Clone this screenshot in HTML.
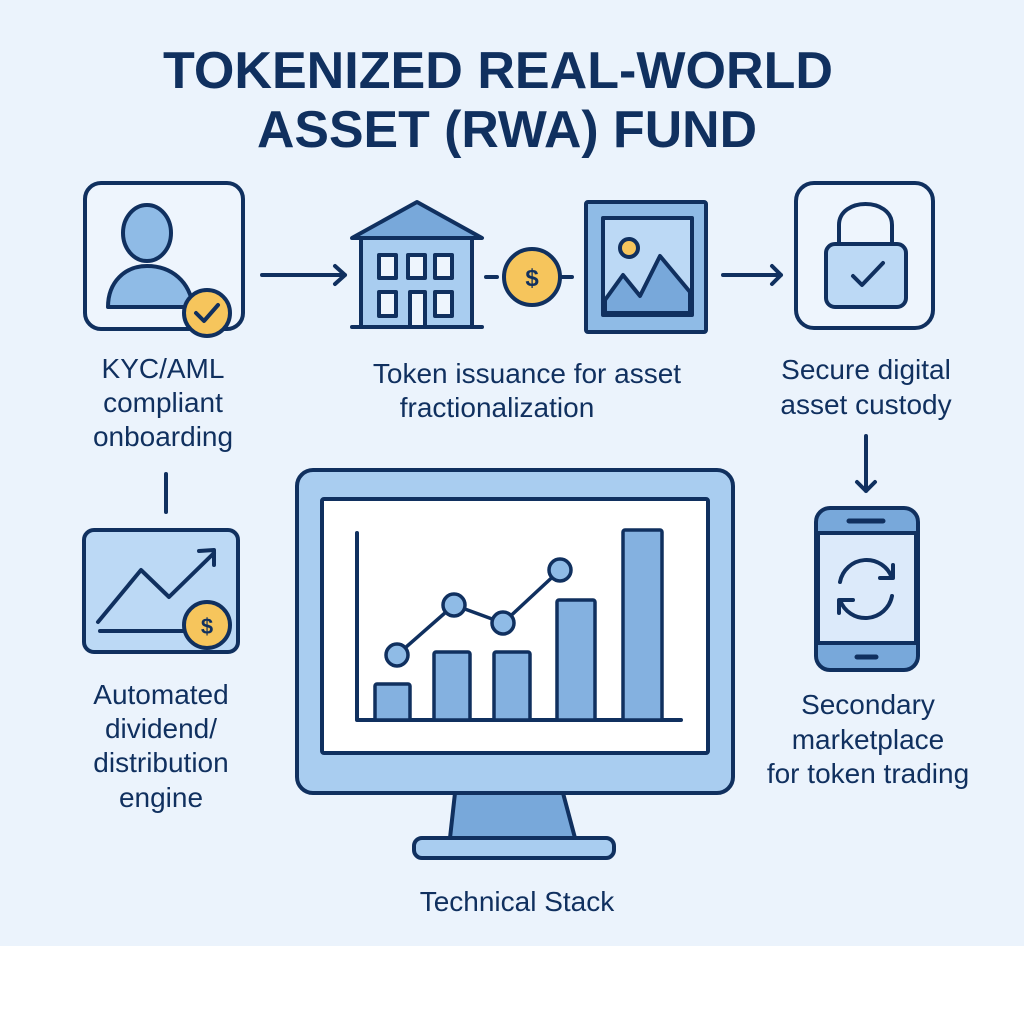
<!DOCTYPE html>
<html><head><meta charset="utf-8"><style>
html,body{margin:0;padding:0;background:#fff}
svg{display:block}
text{font-family:"Liberation Sans",sans-serif;fill:#10305f}
</style></head><body>
<svg width="1024" height="1024" viewBox="0 0 1024 1024" xmlns="http://www.w3.org/2000/svg">
<rect x="0" y="0" width="1024" height="946" fill="#ebf3fc"/>
<g font-weight="bold" font-size="52" text-anchor="middle">
<text x="498" y="88" textLength="670" lengthAdjust="spacingAndGlyphs">TOKENIZED REAL-WORLD</text>
<text x="507" y="147" textLength="500" lengthAdjust="spacingAndGlyphs">ASSET (RWA) FUND</text>
</g>
<g stroke="#10305f" stroke-width="4" stroke-linecap="round" stroke-linejoin="round">
<!-- person box -->
<rect x="85" y="183" width="158" height="146" rx="16" fill="#eef5fd"/>
<ellipse cx="147" cy="233" rx="24" ry="28" fill="#8fbbe6"/>
<path d="M108 307 C108 282 125 266 147 266 C172 266 190 282 193 307 Z" fill="#8fbbe6"/>
<circle cx="207" cy="313" r="23" fill="#f6c55c"/>
<path d="M196 313 L204 321 L218 305" fill="none" stroke-width="4"/>
<!-- arrow1 -->
<path d="M262 275 L345 275 M335 266 L345 275 L335 284" fill="none"/>
<!-- house -->
<path d="M352 238 L417 202 L482 238 Z" fill="#78a8da"/>
<rect x="361" y="238" width="111" height="89" fill="#a9cdf0"/>
<path d="M352 327 L482 327"/>
<g fill="#eef5fd"><rect x="379" y="255" width="17" height="23"/><rect x="408" y="255" width="17" height="23"/><rect x="435" y="255" width="17" height="23"/>
<rect x="379" y="292" width="17" height="24"/><rect x="410" y="292" width="15" height="35"/><rect x="435" y="292" width="17" height="24"/></g>
<!-- coin -->
<path d="M486 277 L497 277 M562 277 L572 277"/>
<ellipse cx="532" cy="277" rx="28" ry="28" fill="#f6c55c"/>
<!-- picture -->
<rect x="586" y="202" width="120" height="130" rx="2" fill="#8fbbe6"/>
<rect x="603" y="218" width="89" height="97" fill="#bcd9f5"/>
<path d="M605 300 L623 275 L640 296 L660 256 L690 292 L690 313 L605 313 Z" fill="#78a8da"/>
<circle cx="629" cy="248" r="9" fill="#f6c55c"/>
<!-- arrow2 -->
<path d="M723 275 L781 275 M772 266 L781 275 L772 284" fill="none"/>
<!-- lock -->
<rect x="796" y="183" width="137" height="145" rx="18" fill="#eef5fd"/>
<path d="M839 245 L839 225 C839 197 892 197 892 225 L892 245" fill="none"/>
<rect x="826" y="244" width="80" height="63" rx="9" fill="#bcd9f5"/>
<path d="M853 276 L862 285 L883 263" fill="none"/>
<!-- down arrow -->
<path d="M866 436 L866 491 M857 482 L866 491 L875 482" fill="none"/>
<!-- phone -->
<rect x="816" y="508" width="102" height="162" rx="14" fill="#78a8da"/>
<rect x="818" y="533" width="98" height="110" fill="#dceafa"/>
<path d="M816 533 L918 533 M816 643 L918 643"/>
<path d="M849 521 L883 521 M857 657 L876 657" stroke-width="5"/>
<path d="M840 582 A27 27 0 0 1 892 578" fill="none"/>
<path d="M880 578 L893 578 L893 565" fill="none"/>
<path d="M892 596 A27 27 0 0 1 840 600" fill="none"/>
<path d="M853 600 L839 600 L839 613" fill="none"/>
<!-- left connector -->
<path d="M166 474 L166 512"/>
<!-- chart box -->
<rect x="84" y="530" width="154" height="122" rx="10" fill="#bcd9f5"/>
<path d="M98 622 L141 570 L169 597 L214 553 M199 551 L214 550 L214 565" fill="none"/>
<path d="M100 631 L185 631"/>
<circle cx="207" cy="625" r="23" fill="#f6c55c"/>
<!-- monitor -->
<path d="M455 793 L563 793 L575 838 L450 838 Z" fill="#78a8da"/>
<rect x="414" y="838" width="200" height="20" rx="8" fill="#a9cdf0"/>
<rect x="297" y="470" width="436" height="323" rx="16" fill="#a9cdf0"/>
<rect x="322" y="499" width="386" height="254" rx="2" fill="#ffffff"/>
<path d="M357 533 L357 720 L681 720" fill="none"/>
<g fill="#84b1e0" stroke-width="3.5">
<rect x="375" y="684" width="35" height="36" rx="2"/>
<rect x="434" y="652" width="36" height="68" rx="2"/>
<rect x="494" y="652" width="36" height="68" rx="2"/>
<rect x="557" y="600" width="38" height="120" rx="2"/>
<rect x="623" y="530" width="39" height="190" rx="2"/>
</g>
<path d="M397 655 L454 605 L503 623 L560 570" fill="none" stroke-width="3.5"/>
<g fill="#8fbbe6" stroke-width="3.5">
<circle cx="397" cy="655" r="11"/><circle cx="454" cy="605" r="11"/><circle cx="503" cy="623" r="11"/><circle cx="560" cy="570" r="11"/>
</g>
</g>
<g font-size="24" font-weight="bold" text-anchor="middle" style="fill:#10305f">
<text x="532" y="286" font-size="24">$</text>
<text x="207" y="634" font-size="22">$</text>
</g>
<g font-size="28" text-anchor="middle">
<text x="163" y="378">KYC/AML</text>
<text x="163" y="412">compliant</text>
<text x="163" y="446">onboarding</text>
<text x="527" y="383">Token issuance for asset</text>
<text x="497" y="417">fractionalization</text>
<text x="866" y="379">Secure digital</text>
<text x="866" y="414">asset custody</text>
<text x="161" y="704">Automated</text>
<text x="161" y="738">dividend/</text>
<text x="161" y="772">distribution</text>
<text x="161" y="807">engine</text>
<text x="868" y="714">Secondary</text>
<text x="868" y="749">marketplace</text>
<text x="868" y="783">for token trading</text>
<text x="517" y="911">Technical Stack</text>
</g>
</svg>
</body></html>
